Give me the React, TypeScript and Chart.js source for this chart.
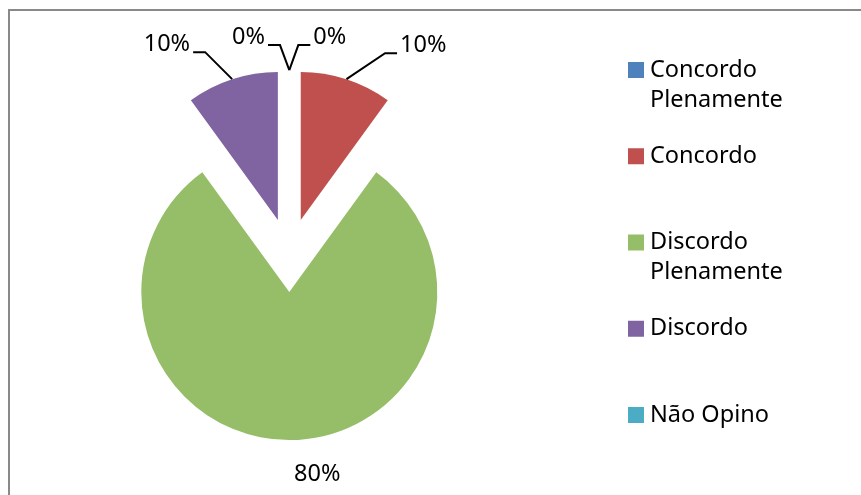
import React, { useEffect, useRef } from "react";
import { Chart, registerables } from "chart.js";

Chart.register(...registerables);

const CATEGORIES = ["Concordo Plenamente", "Concordo", "Discordo Plenamente", "Discordo", "Não Opino"];
const VALUES = [0, 10, 80, 10, 0];
const COLORS = ["#4F81BD", "#C0504D", "#96BD68", "#8064A2", "#4BACC6"];

const W = 861;
const H = 495;
const FONT_FAMILY = "'Noto Sans', sans-serif";
const FONT_SIZE = 23.5;
const RADIUS = 148;
const EXPLODE = 37;

// Data label layout: elbow offset from slice edge, side of horizontal tail (0 = no leader)
const LABEL_LAYOUT = [
  { ex: 9, ey: -25, side: 1 },
  { ex: 38.6, ey: -26, side: 1 },
  { ex: 28, ey: 34, side: 0 },
  { ex: -27, ey: -27, side: -1 },
  { ex: -9.3, ey: -25, side: -1 },
];

const LEGEND = { boxX: 628, box: 16, textX: 650, firstY: 70, step: 86.25, lineH: 30, maxW: 160 };

const explodePlugin = {
  id: "explode",
  beforeDatasetsDraw(chart: any) {
    const meta = chart.getDatasetMeta(0);
    const ca = chart.chartArea;
    const cx = (ca.left + ca.right) / 2;
    const cy = (ca.top + ca.bottom) / 2;
    meta.data.forEach((arc: any) => {
      const mid = (arc.startAngle + arc.endAngle) / 2;
      arc.x = cx + EXPLODE * Math.cos(mid);
      arc.y = cy + EXPLODE * Math.sin(mid);
    });
  },
};

const framePlugin = {
  id: "frame",
  beforeDraw(chart: any) {
    const ctx = chart.ctx;
    ctx.save();
    ctx.strokeStyle = "#898989";
    ctx.lineWidth = 2;
    ctx.beginPath();
    ctx.moveTo(9, H);
    ctx.lineTo(9, 10);
    ctx.lineTo(W, 10);
    ctx.stroke();
    ctx.restore();
  },
};

const labelsPlugin = {
  id: "pieLabels",
  afterDatasetsDraw(chart: any) {
    const ctx = chart.ctx;
    const meta = chart.getDatasetMeta(0);
    const data = chart.data.datasets[0].data as number[];
    const total = data.reduce((a, b) => a + b, 0);
    ctx.save();
    ctx.font = `${FONT_SIZE}px ${FONT_FAMILY}`;
    ctx.fillStyle = "#000";
    ctx.strokeStyle = "#000";
    ctx.lineWidth = 2;
    ctx.textBaseline = "middle";
    meta.data.forEach((arc: any, i: number) => {
      const mid = (arc.startAngle + arc.endAngle) / 2;
      const sx = arc.x + arc.outerRadius * Math.cos(mid);
      const sy = arc.y + arc.outerRadius * Math.sin(mid);
      const lay = LABEL_LAYOUT[i];
      const txt = Math.round((data[i] / total) * 100) + "%";
      if (lay.side === 0) {
        ctx.textAlign = "center";
        ctx.fillText(txt, sx + lay.ex, sy + lay.ey);
        return;
      }
      const bx = sx + lay.ex;
      const by = sy + lay.ey;
      const endX = bx + lay.side * 12;
      ctx.beginPath();
      ctx.moveTo(sx, sy);
      ctx.lineTo(bx, by);
      ctx.lineTo(endX, by);
      ctx.stroke();
      ctx.textAlign = lay.side > 0 ? "left" : "right";
      ctx.fillText(txt, endX + lay.side * 3, by - 8);
    });
    ctx.restore();
  },
};

function wrap(ctx: CanvasRenderingContext2D, text: string, maxW: number): string[] {
  const words = text.split(" ");
  const lines: string[] = [];
  let cur = "";
  words.forEach((w) => {
    const test = cur ? cur + " " + w : w;
    if (cur && ctx.measureText(test).width > maxW) {
      lines.push(cur);
      cur = w;
    } else cur = test;
  });
  if (cur) lines.push(cur);
  return lines;
}

const legendPlugin = {
  id: "sideLegend",
  afterDraw(chart: any) {
    const ctx = chart.ctx;
    const labels = chart.data.labels as string[];
    const colors = chart.data.datasets[0].backgroundColor as string[];
    ctx.save();
    ctx.font = `${FONT_SIZE}px ${FONT_FAMILY}`;
    ctx.textBaseline = "middle";
    ctx.textAlign = "left";
    labels.forEach((lab, i) => {
      const y = LEGEND.firstY + i * LEGEND.step;
      ctx.fillStyle = colors[i];
      ctx.fillRect(LEGEND.boxX, y - LEGEND.box / 2, LEGEND.box, LEGEND.box);
      ctx.fillStyle = "#000";
      wrap(ctx, lab, LEGEND.maxW).forEach((line, j) => {
        ctx.fillText(line, LEGEND.textX, y + j * LEGEND.lineH);
      });
    });
    ctx.restore();
  },
};

export default function App() {
  const ref = useRef<HTMLCanvasElement>(null);
  useEffect(() => {
    if (!ref.current) return;
    const chart = new Chart(ref.current, {
      type: "pie",
      data: {
        labels: CATEGORIES,
        datasets: [
          {
            data: VALUES,
            backgroundColor: COLORS,
            borderWidth: 0,
          },
        ],
      },
      options: {
        responsive: false,
        animation: false,
        radius: RADIUS,
        layout: { padding: { left: 141.3, right: 423.7, top: 107.1, bottom: 91.9 } },
        plugins: { legend: { display: false }, tooltip: { enabled: false } },
      } as any,
      plugins: [framePlugin, explodePlugin, labelsPlugin, legendPlugin],
    });
    return () => chart.destroy();
  }, []);
  return (
    <div style={{ position: "fixed", left: 0, top: 0, width: W, height: H, background: "#fff" }}>
      <canvas ref={ref} width={W} height={H} style={{ display: "block" }} />
    </div>
  );
}
